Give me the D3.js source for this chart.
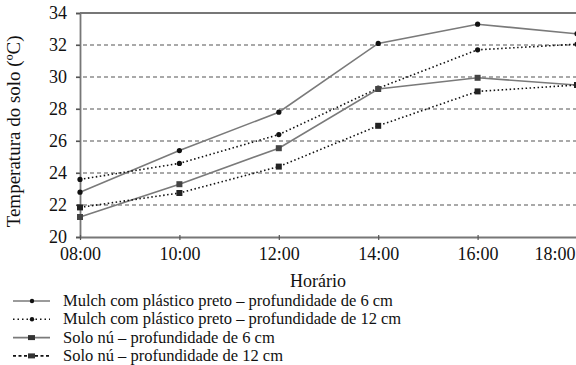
<!DOCTYPE html>
<html>
<head>
<meta charset="utf-8">
<script src="https://cdn.jsdelivr.net/npm/d3@7"></script>
<style>
  body { margin: 0; background: #fff; }
  svg { display: block; font-family: "Liberation Serif", "DejaVu Serif", serif; }
</style>
</head>
<body>
<div id="chart"></div>
<script>
var hours = [8, 10, 12, 14, 16, 18];
var hourLabels = ["08:00", "10:00", "12:00", "14:00", "16:00", "18:00"];
var yTicks = [20, 22, 24, 26, 28, 30, 32, 34];
var gridTicks = [22, 24, 26, 28, 30, 32];

var mulch6 = [22.8, 25.4, 27.8, 32.1, 33.3, 32.7];
var mulch12 = [23.6, 24.6, 26.4, 29.3, 31.7, 32.05];
var solo6 = [21.25, 23.3, 25.55, 29.25, 29.95, 29.5];
var solo12 = [21.85, 22.75, 24.4, 26.95, 29.1, 29.5];

var seriesNames = ["Mulch com plástico preto – profundidade de 6 cm",
                   "Mulch com plástico preto – profundidade de 12 cm",
                   "Solo nú – profundidade de 6 cm",
                   "Solo nú – profundidade de 12 cm"];

var width = 576, height = 365;
var margin = {left: 80, top: 13, right: 0, bottom: 128};

var series = [
  {name: seriesNames[0], values: mulch6, stroke: "#7a7a7a", dash: null, legendDash: null, marker: "circle"},
  {name: seriesNames[1], values: mulch12, stroke: "#111", dash: "1.5,2.5", legendDash: "1.5,3", marker: "circle"},
  {name: seriesNames[2], values: solo6, stroke: "#7a7a7a", dash: null, legendDash: null, marker: "square"},
  {name: seriesNames[3], values: solo12, stroke: "#111", dash: "1.5,2.5", legendDash: "3,2.5", marker: "square"}
];

var svg = d3.select("#chart")
    .append("svg")
    .attr("width", width)
    .attr("height", height);

var x = d3.scaleLinear().domain([8, 18]).range([margin.left, 577]);
var y = d3.scaleLinear().domain([20, 34]).range([height - margin.bottom, margin.top]);

// gridlines
svg.append("g")
    .selectAll("line")
    .data(gridTicks)
    .enter()
    .append("line")
    .attr("x1", margin.left - 4)
    .attr("x2", width)
    .attr("y1", d => y(d))
    .attr("y2", d => y(d))
    .attr("stroke", "#555")
    .attr("stroke-width", 1.2)
    .attr("stroke-dasharray", "4,3");

// top border
svg.append("line")
    .attr("x1", margin.left).attr("x2", width)
    .attr("y1", y(34)).attr("y2", y(34))
    .attr("stroke", "#777").attr("stroke-width", 1.8);

// y axis
var yAxis = svg.append("g")
    .attr("transform", "translate(" + margin.left + ",0)")
    .call(d3.axisLeft(y).tickValues(yTicks).tickSize(4).tickPadding(9).tickFormat(d3.format("d")));
yAxis.select(".domain").attr("stroke", "#777").attr("stroke-width", 1.8);
yAxis.selectAll(".tick line").attr("stroke", "#555").attr("stroke-width", 1.2);
yAxis.selectAll(".tick text")
    .attr("font-size", "18px")
    .attr("font-family", "Liberation Serif")
    .attr("fill", "#111");

// x axis
var xAxis = svg.append("g")
    .attr("transform", "translate(0," + y(20) + ")")
    .call(d3.axisBottom(x).tickValues(hours).tickSize(0).tickPadding(9)
        .tickFormat((d, i) => hourLabels[i]));
xAxis.select(".domain").attr("stroke", "#777").attr("stroke-width", 1.8);
xAxis.selectAll(".tick").append("line")
    .attr("y1", -2).attr("y2", 3)
    .attr("stroke", "#555").attr("stroke-width", 1.2);
xAxis.selectAll(".tick text")
    .attr("font-size", "18px")
    .attr("font-family", "Liberation Serif")
    .attr("fill", "#111")
    .attr("dy", "0.8em");
xAxis.selectAll(".tick text").filter((d, i) => i === hours.length - 1)
    .attr("text-anchor", "end")
    .attr("x", 575 - x(18));

// axis titles
svg.append("text")
    .attr("x", 318)
    .attr("y", 287)
    .attr("text-anchor", "middle")
    .attr("font-size", "18px")
    .attr("fill", "#111")
    .text("Horário");

svg.append("text")
    .attr("transform", "translate(20," + y(26.6) + ") rotate(-90)")
    .attr("text-anchor", "middle")
    .attr("font-size", "19px")
    .attr("fill", "#111")
    .text("Temperatura do solo (ºC)");

// lines
var line = d3.line()
    .x((d, i) => x(hours[i]))
    .y(d => y(d));

svg.selectAll(".series")
    .data(series)
    .enter()
    .append("path")
    .attr("class", "series")
    .attr("d", d => line(d.values))
    .attr("fill", "none")
    .attr("stroke", d => d.stroke)
    .attr("stroke-width", 1.6)
    .attr("stroke-dasharray", d => d.dash);

// markers
series.forEach(function(s) {
  var g = svg.append("g");
  if (s.marker === "circle") {
    g.selectAll("circle")
      .data(s.values)
      .enter()
      .append("circle")
      .attr("cx", (d, i) => x(hours[i]))
      .attr("cy", d => y(d))
      .attr("r", 2.6)
      .attr("fill", "#111");
  } else {
    g.selectAll("rect")
      .data(s.values)
      .enter()
      .append("rect")
      .attr("x", (d, i) => x(hours[i]) - 3)
      .attr("y", d => y(d) - 3)
      .attr("width", 6)
      .attr("height", 6)
      .attr("fill", s.stroke === "#111" ? "#222" : "#444");
  }
});

// legend
var legend = svg.append("g").attr("transform", "translate(0,301)");
var rowH = 18.3;
series.forEach(function(s, i) {
  var row = legend.append("g").attr("transform", "translate(0," + (i * rowH) + ")");
  row.append("line")
    .attr("x1", 13).attr("x2", 50)
    .attr("y1", 0).attr("y2", 0)
    .attr("stroke", s.stroke)
    .attr("stroke-width", 1.6)
    .attr("stroke-dasharray", s.legendDash);
  if (s.marker === "circle") {
    row.append("circle").attr("cx", 32).attr("cy", 0).attr("r", 2.2).attr("fill", "#111");
  } else {
    row.append("rect").attr("x", 28).attr("y", -2.5).attr("width", 7).attr("height", 5).attr("fill", "#333");
  }
  row.append("text")
    .attr("x", 63)
    .attr("y", 0)
    .attr("dy", "0.3em")
    .attr("font-size", "16.5px")
    .attr("fill", "#111")
    .text(s.name);
});
</script>
</body>
</html>
